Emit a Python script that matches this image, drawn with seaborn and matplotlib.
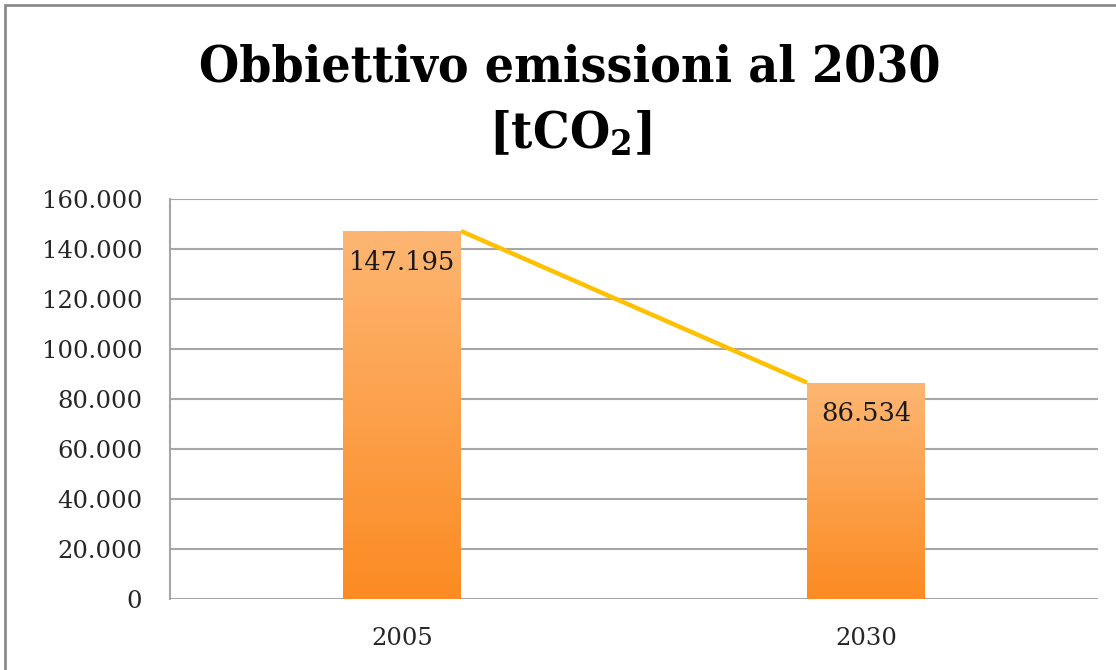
import numpy as np
import pandas as pd
import seaborn as sns
import matplotlib.pyplot as plt
from matplotlib.colors import LinearSegmentedColormap
from matplotlib.patches import Rectangle

# data
years = ["2005", "2030"]
emissions = [147195, 86534]
yticks = [0, 20000, 40000, 60000, 80000, 100000, 120000, 140000, 160000]

df = pd.DataFrame({"anno": years, "tCO2": emissions})

sns.set_theme(style="white")
plt.rcParams["font.family"] = ["DejaVu Serif"]

fig = plt.figure(figsize=(11.16, 6.70), dpi=100)
ax = fig.add_axes([170 / 1116, 1 - 599 / 670, 928 / 1116, 400 / 670])

bar_w = 0.254
sns.barplot(data=df, x="anno", y="tCO2", ax=ax, width=bar_w, color="#fca45a",
            edgecolor="none", zorder=3)

# gradient fill for each bar
cmap = LinearSegmentedColormap.from_list("arancio", ["#fb8b22", "#fdb673"])
grad = np.linspace(0, 1, 256).reshape(-1, 1)
for p in ax.patches:
    x0, y0 = p.get_x(), p.get_y()
    w, h = p.get_width(), p.get_height()
    im = ax.imshow(grad, cmap=cmap, aspect="auto", origin="lower",
                   extent=[x0, x0 + w, y0, y0 + h], zorder=3.5)
    im.set_clip_path(p)
    ax.text(x0 + w / 2, h - 7500, f"{h:,.0f}".replace(",", "."),
            ha="center", va="top", fontsize=18.5, color="#1a1a1a", zorder=5)

# connector line between the bar tops
ax.plot([0 + bar_w / 2, 1 - bar_w / 2], emissions, color="#ffc000", lw=3.2,
        zorder=4, solid_capstyle="butt")

ax.set_xlim(-0.5, 1.5)
ax.set_ylim(0, 160000)
ax.set_yticks(yticks)
ax.set_yticklabels([f"{v:,}".replace(",", ".") for v in yticks], fontsize=17.5,
                   color="#262626")
ax.set_xticklabels(years, fontsize=17.5, color="#262626")
ax.tick_params(axis="y", length=0, pad=20)
ax.tick_params(axis="x", length=0, pad=20)
ax.yaxis.grid(True, color="#a6a6a6", lw=1.5, zorder=0)
ax.set_axisbelow(True)
for s in ["top", "right", "bottom"]:
    ax.spines[s].set_visible(False)
ax.spines["left"].set_color("#a6a6a6")
ax.spines["left"].set_linewidth(1.5)
ax.set_xlabel("")
ax.set_ylabel("")

# title (condensed bold serif)
plt.rcParams["font.stretch"] = "condensed"
fig.text(570 / 1116, 1 - 68 / 670, "Obbiettivo emissioni al 2030",
         ha="center", va="center", fontsize=37, fontweight="bold",
         fontstretch="condensed", color="black")
fig.text(570 / 1116, 1 - 134 / 670, r"[tCO$\mathregular{_2}$]",
         ha="center", va="center", fontsize=37, fontweight="bold",
         fontstretch="condensed", color="black")

# chart border
fig.patches.append(Rectangle((5 / 1116, -0.1), 1.2, 1 - 5 / 670 + 0.1,
                             transform=fig.transFigure, fill=False,
                             edgecolor="#8c8c8c", lw=2))

fig.savefig("out.png", dpi=100)
